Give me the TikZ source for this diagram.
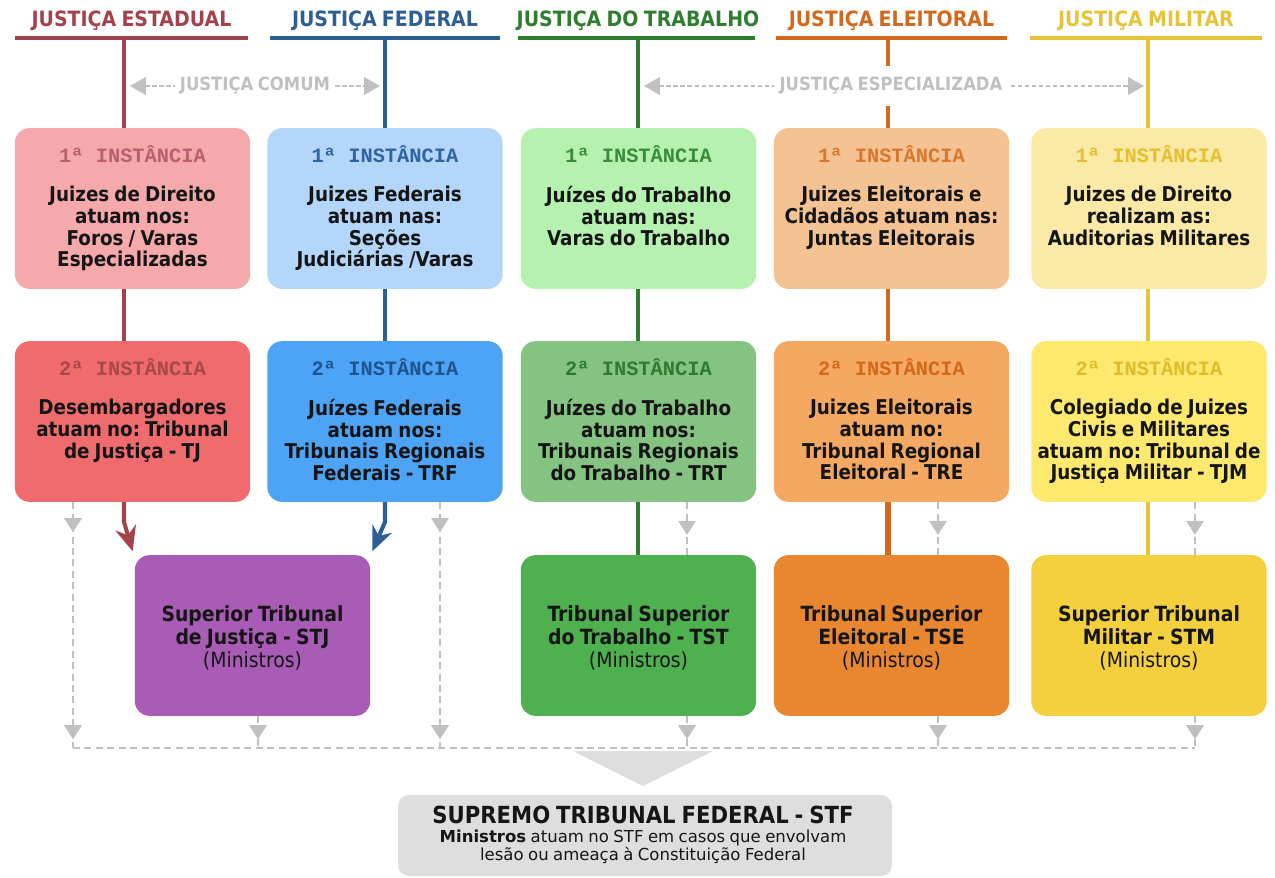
\documentclass[tikz,border=0pt]{standalone}
\usepackage{fontspec}
\setmainfont{DejaVu Sans}[WordSpace=0.85]
\newfontfamily\cnd{DejaVu Sans Condensed}[WordSpace=0.8]
\newfontfamily\mono{Liberation Mono}
\usetikzlibrary{arrows.meta,decorations.markings}
\frenchspacing
\definecolor{cA}{HTML}{A3424D}\definecolor{cAa}{HTML}{F5A9AB}\definecolor{cAb}{HTML}{EF6B6E}
\definecolor{tAa}{HTML}{B8606E}\definecolor{tAb}{HTML}{A84848}
\definecolor{cB}{HTML}{2D5F95}\definecolor{cBa}{HTML}{B3D6FA}\definecolor{cBb}{HTML}{4DA3F5}
\definecolor{tBa}{HTML}{2E64A0}\definecolor{tBb}{HTML}{1E5590}
\definecolor{cC}{HTML}{2F7D2F}\definecolor{cCa}{HTML}{B5F2B0}\definecolor{cCb}{HTML}{85C382}\definecolor{cCc}{HTML}{4FB050}
\definecolor{tCa}{HTML}{3A8C3A}\definecolor{tCb}{HTML}{2E7A2E}
\definecolor{cD}{HTML}{D2691E}\definecolor{cDa}{HTML}{F5C393}\definecolor{cDb}{HTML}{F5A862}\definecolor{cDc}{HTML}{E8872F}
\definecolor{tDa}{HTML}{D8782A}\definecolor{tDb}{HTML}{D06A1A}
\definecolor{cE}{HTML}{E6C43A}\definecolor{cEa}{HTML}{FBE9A6}\definecolor{cEb}{HTML}{FDE96E}\definecolor{cEc}{HTML}{F4D03F}
\definecolor{tEa}{HTML}{E3C02C}\definecolor{tEb}{HTML}{E0BC28}
\definecolor{stjc}{HTML}{A95CB5}
\definecolor{gl}{HTML}{C0C0C0}\definecolor{stfc}{HTML}{DEDEDE}\definecolor{txt}{HTML}{151515}
\tikzset{
  ibox/.style={rounded corners=8.5pt, minimum width=134pt, minimum height=91.5pt, inner sep=0pt, draw=none},
  ititle/.style={font=\mono\bfseries\fontsize{11.6}{13}\selectfont, inner sep=0pt},
  ibody/.style={font=\cnd\bfseries\frenchspacing\fontsize{11.6}{12.3}\selectfont, align=center, inner sep=0pt, text=txt},
  sbody/.style={font=\cnd\bfseries\frenchspacing\fontsize{11.9}{13.3}\selectfont, align=center, inner sep=0pt, text=txt},
  hdr/.style={font=\cnd\bfseries\fontsize{12}{14}\selectfont, inner sep=0pt},
  hline/.style={line width=2.3pt},
  vline/.style={line width=2.3pt},
  gdash/.style={draw=gl, line width=1pt, dash pattern=on 4pt off 2.5pt},
  garr/.style={postaction={decorate,decoration={markings,mark=at position #1 with {\arrow[gl]{Triangle[length=8pt,width=10pt]}}}}},
  glabel/.style={font=\cnd\bfseries\fontsize{10.4}{12}\selectfont, text=gl, fill=white, inner xsep=3pt, inner ysep=0pt},
}
\newcommand\instbox[7]{%
  \node[ibox, fill=#4] (#1) at (#2,#3+80.5) {};
  \node[ititle, text=#5] (#1t) at (#2,#3+26) {#6};
  \node[ibody, anchor=north] (#1b) at (#2,#3+58) {#7};
}
\newcommand\supbox[5]{%
  \node[ibox, fill=#4] (#1) at (#2,#3+80.5) {};
  \node[sbody] (#1b) at (#2,#3+83) {#5};
}
\begin{document}
\begin{tikzpicture}[x=0.02cm,y=-0.02cm]
\useasboundingbox (0,0) rectangle (1275,877);
% headers
\node[hdr, text=cA] (h1) at (131.5,21) {JUSTIÇA ESTADUAL};
\node[hdr, text=cB] (h2) at (385,21) {JUSTIÇA FEDERAL};
\node[hdr, text=cC] (h3) at (638,21) {JUSTIÇA DO TRABALHO};
\node[hdr, text=cD] (h4) at (891.5,21) {JUSTIÇA ELEITORAL};
\node[hdr, text=cE] (h5) at (1146,21) {JUSTIÇA MILITAR};
\draw[hline, cA] (15,38) -- (248,38);
\draw[hline, cB] (270,38) -- (500,38);
\draw[hline, cC] (518,38) -- (755,38);
\draw[hline, cD] (776,38) -- (1007,38);
\draw[hline, cE] (1030,38) -- (1262,38);
\coordinate (v1) at (124,38);
\coordinate (v2) at (385,38);
\coordinate (v3) at (638,38);
\coordinate (v4) at (888,38);
\coordinate (v5) at (1148,38);
% boxes
\instbox{a1}{132.5}{128}{cAa}{tAa}{1ª INSTÂNCIA}{Juizes de Direito\\atuam nos:\\Foros / Varas\\Especializadas}
\instbox{a2}{385}{128}{cBa}{tBa}{1ª INSTÂNCIA}{Juizes Federais\\atuam nas:\\Seções\\Judiciárias /Varas}
\instbox{a3}{638.5}{128}{cCa}{tCa}{1ª INSTÂNCIA}{Juízes do Trabalho\\atuam nas:\\Varas do Trabalho}
\instbox{a4}{891.5}{128}{cDa}{tDa}{1ª INSTÂNCIA}{Juizes Eleitorais e\\Cidadãos atuam nas:\\Juntas Eleitorais}
\instbox{a5}{1149}{128}{cEa}{tEa}{1ª INSTÂNCIA}{Juizes de Direito\\realizam as:\\Auditorias Militares}
\instbox{b1}{132.5}{341}{cAb}{tAb}{2ª INSTÂNCIA}{Desembargadores\\atuam no: Tribunal\\de Justiça - TJ}
\instbox{b2}{385}{341}{cBb}{tBb}{2ª INSTÂNCIA}{Juízes Federais\\atuam nos:\\Tribunais Regionais\\Federais - TRF}
\instbox{b3}{638.5}{341}{cCb}{tCb}{2ª INSTÂNCIA}{Juízes do Trabalho\\atuam nos:\\Tribunais Regionais\\do Trabalho - TRT}
\instbox{b4}{891.5}{341}{cDb}{tDb}{2ª INSTÂNCIA}{Juizes Eleitorais\\atuam no:\\Tribunal Regional\\Eleitoral - TRE}
\instbox{b5}{1149}{341}{cEb}{tEb}{2ª INSTÂNCIA}{Colegiado de Juizes\\Civis e Militares\\atuam no: Tribunal de\\Justiça Militar - TJM}
\supbox{s1}{252.5}{555}{stjc}{Superior Tribunal\\de Justiça - STJ\\\mdseries(Ministros)}
\supbox{s3}{638.5}{555}{cCc}{Tribunal Superior\\do Trabalho - TST\\\mdseries(Ministros)}
\supbox{s4}{891.5}{555}{cDc}{Tribunal Superior\\Eleitoral - TSE\\\mdseries(Ministros)}
\supbox{s5}{1149}{555}{cEc}{Superior Tribunal\\Militar - STM\\\mdseries(Ministros)}
% colored vertical connectors
\draw[vline, cA] (v1) -- (a1.north -| v1);
\draw[vline, cA] (a1.south -| v1) -- (b1.north -| v1);
\draw[vline, cB] (v2) -- (a2.north -| v2);
\draw[vline, cB] (a2.south -| v2) -- (b2.north -| v2);
\draw[vline, cC] (v3) -- (a3.north -| v3);
\draw[vline, cC] (a3.south -| v3) -- (b3.north -| v3);
\draw[vline, cC] (b3.south -| v3) -- (s3.north -| v3);
\draw[vline, cD] (v4) -- (a4.north -| v4);
\draw[vline, cD] (a4.south -| v4) -- (b4.north -| v4);
\draw[vline, cD, line width=3.2pt] (b4.south -| v4) -- (s4.north -| v4);
\draw[vline, cE] (v5) -- (a5.north -| v5);
\draw[vline, cE] (a5.south -| v5) -- (b5.north -| v5);
\draw[vline, cE] (b5.south -| v5) -- (s5.north -| v5);
\coordinate (k1) at (124,522);
\coordinate (k2) at (385,522);
\draw[vline, cA, -{Stealth[length=14pt,width=12pt]}] (b1.south -| v1) -- (k1) -- ([xshift=-1pt,yshift=2pt]s1.north west);
\draw[vline, cB, -{Stealth[length=14pt,width=12pt]}] (b2.south -| v2) -- (k2) -- ([xshift=1pt,yshift=2pt]s1.north east);
% justica comum / especializada
\coordinate (jc1) at (130,86);
\coordinate (jc2) at (380,86);
\coordinate (je1) at (644,86);
\coordinate (je2) at (1144,86);
\draw[draw=gl, line width=1pt, dash pattern=on 2.5pt off 1.5pt, {Triangle[length=9pt,width=10pt]}-{Triangle[length=9pt,width=10pt]}, gl] (jc1) -- (jc2);
\draw[draw=gl, line width=1pt, dash pattern=on 2.5pt off 1.5pt, {Triangle[length=9pt,width=10pt]}-{Triangle[length=9pt,width=10pt]}, gl] (je1) -- (je2);
\node[glabel] (lc) at (255,86) {JUSTIÇA COMUM};
\node[glabel, minimum height=23pt] (le) at (891,86) {JUSTIÇA ESPECIALIZADA};
% gray dashed connectors
\coordinate (bl) at (73,748);
\coordinate (br) at (1195,748);
\coordinate (bx2) at (440,748);
\coordinate (bs1) at (258,748);
\coordinate (bs3) at (687,748);
\coordinate (bs4) at (938,748);
\draw[gdash] (bl) -- (br);
\draw[gdash, garr=17pt, garr=-5pt] (b1.south -| bl) -- (bl);
\draw[gdash, garr=17pt, garr=-5pt] (b2.south -| bx2) -- (bx2);
\draw[gdash, garr=-5pt] (s1.south -| bs1) -- (bs1);
\draw[gdash, garr=0.62] (b3.south -| bs3) -- (s3.north -| bs3);
\draw[gdash, garr=-5pt] (s3.south -| bs3) -- (bs3);
\draw[gdash, garr=0.62] (b4.south -| bs4) -- (s4.north -| bs4);
\draw[gdash, garr=-5pt] (s4.south -| bs4) -- (bs4);
\draw[gdash, garr=0.62] (b5.south -| br) -- (s5.north -| br);
\draw[gdash, garr=-5pt] (s5.south -| br) -- (br);
% big arrow and STF
\fill[stfc] (573,751) -- (713,751) -- (643,786) -- cycle;
\node[fill=stfc, rounded corners=6pt, minimum width=281pt, minimum height=46pt, inner sep=0pt] (stf) at (645,835.5) {};
\node[font=\cnd\bfseries\fontsize{13.4}{15}\selectfont, text=txt, inner sep=0pt] (stft) at (643,815) {SUPREMO TRIBUNAL FEDERAL - STF};
\node[font=\fontsize{9.4}{9.8}\selectfont, text=txt, align=center, inner sep=0pt, anchor=north] (stfb) at (643,830) {\textbf{Ministros} atuam no STF em casos que envolvam\\lesão ou ameaça à Constituição Federal};
\end{tikzpicture}
\end{document}
